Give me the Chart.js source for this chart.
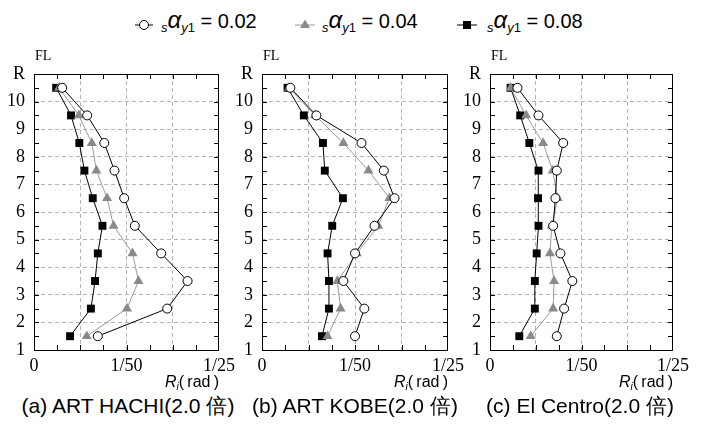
<!DOCTYPE html>
<html>
<head>
<meta charset="utf-8">
<script src="https://cdn.jsdelivr.net/npm/chart.js@4"></script>
<style>
body { margin: 0; background: #fff; width: 708px; height: 425px; position: relative; overflow: hidden;
       font-family: "Liberation Sans", Arial, sans-serif; color: #000; }
canvas { position: absolute; top: 40px; }
.fl { position: absolute; top: 48px; font: 14px "Liberation Serif", serif; }
.xt { position: absolute; top: 373px; font-size: 16px; white-space: nowrap; text-align: right; }
.xt sub { font-size: 10px; vertical-align: -3px; }
.cap { position: absolute; top: 392px; width: 300px; text-align: center; font-size: 21px; white-space: nowrap; }
.mk { position: absolute; top: 17px; }
.lt { position: absolute; top: 8px; font-size: 20px; white-space: nowrap; line-height: 24px; }
.lt .sb { font-size: 13px; vertical-align: -4px; }
.lt .al { font-size: 24px; font-style: italic; }
</style>
</head>
<body>

<svg class="mk" style="left:134px" width="22" height="16">
  <line x1="1" y1="8" x2="19" y2="8" stroke="#000" stroke-width="1"/>
  <circle cx="10" cy="8" r="4.5" fill="#fff" stroke="#000" stroke-width="1"/>
</svg>
<div class="lt" style="left:161px"><i class="sb">s</i><span class="al">α</span><i class="sb">y</i><span class="sb">1</span> = 0.02</div>

<svg class="mk" style="left:294px" width="22" height="16">
  <line x1="1" y1="8" x2="21" y2="8" stroke="#999" stroke-width="1"/>
  <polygon points="11,2.5 16,11 6,11" fill="#8a8a8a"/>
</svg>
<div class="lt" style="left:322px"><i class="sb">s</i><span class="al">α</span><i class="sb">y</i><span class="sb">1</span> = 0.04</div>

<svg class="mk" style="left:456px" width="22" height="16">
  <line x1="1" y1="8" x2="21" y2="8" stroke="#000" stroke-width="1"/>
  <rect x="7" y="4" width="8" height="8" fill="#000"/>
</svg>
<div class="lt" style="left:487px"><i class="sb">s</i><span class="al">α</span><i class="sb">y</i><span class="sb">1</span> = 0.08</div>

<canvas id="chartA"></canvas>
<canvas id="chartB"></canvas>
<canvas id="chartC"></canvas>

<div class="fl" style="left:35px">FL</div>
<div class="fl" style="left:263px">FL</div>
<div class="fl" style="left:491px">FL</div>

<div class="xt" style="right:489px"><i>R</i><sub><i>i</i></sub>(&thinsp;rad&thinsp;)</div>
<div class="xt" style="right:260px"><i>R</i><sub><i>i</i></sub>(&thinsp;rad&thinsp;)</div>
<div class="xt" style="right:35px"><i>R</i><sub><i>i</i></sub>(&thinsp;rad&thinsp;)</div>

<div class="cap" style="left:-22px">(a) ART HACHI(2.0 倍)</div>
<div class="cap" style="left:205px">(b) ART KOBE(2.0 倍)</div>
<div class="cap" style="left:430px">(c) El Centro(2.0 倍)</div>

<script>
// story mid-heights, from 1st floor up to 10th
const stories = [1.5, 2.5, 3.5, 4.5, 5.5, 6.5, 7.5, 8.5, 9.5, 10.5];
const floorLabels = ['1', '2', '3', '4', '5', '6', '7', '8', '9', '10', 'R'];
const xTickValues = [0, 0.02, 0.04];
const xTickLabels = ['0', '1/50', '1/25'];
const seriesNames = ['sαy1 = 0.02', 'sαy1 = 0.04', 'sαy1 = 0.08'];

// (a) ART HACHI
const hachi002 = [0.0138, 0.0288, 0.0332, 0.0275, 0.0218, 0.0195, 0.0174, 0.0152, 0.0115, 0.0061];
const hachi004 = [0.0114, 0.0201, 0.0226, 0.0213, 0.0172, 0.0158, 0.0135, 0.0125, 0.0097, 0.0054];
const hachi008 = [0.0078, 0.0123, 0.0132, 0.0138, 0.0148, 0.0127, 0.0109, 0.0098, 0.0080, 0.0048];

// (b) ART KOBE
const kobe002 = [0.0200, 0.0220, 0.0175, 0.0200, 0.0242, 0.0285, 0.0262, 0.0214, 0.0117, 0.0061];
const kobe004 = [0.0141, 0.0169, 0.0162, 0.0204, 0.0250, 0.0274, 0.0229, 0.0175, 0.0114, 0.0058];
const kobe008 = [0.0129, 0.0144, 0.0144, 0.0141, 0.0151, 0.0174, 0.0135, 0.0131, 0.0090, 0.0055];

// (c) El Centro
const centro002 = [0.0146, 0.0162, 0.0180, 0.0154, 0.0138, 0.0143, 0.0146, 0.0160, 0.0106, 0.0060];
const centro004 = [0.0089, 0.0138, 0.0140, 0.0131, 0.0135, 0.0148, 0.0137, 0.0116, 0.0079, 0.0045];
const centro008 = [0.0064, 0.0098, 0.0098, 0.0102, 0.0106, 0.0105, 0.0106, 0.0086, 0.0066, 0.0045];

// frame and inward ticks on all four sides
const framePlugin = {
    id: 'frame',
    beforeDatasetsDraw(chart) {
        const { ctx, chartArea: a, scales: { x, y } } = chart;
        ctx.save();
        ctx.setLineDash([]);
        ctx.strokeStyle = '#000';
        ctx.lineWidth = 1;
        ctx.beginPath();
        for (let i = 1; i < 8; i++) {
            const px = Math.round(x.getPixelForValue(i * 0.005)) + 0.5;
            ctx.moveTo(px, a.bottom); ctx.lineTo(px, a.bottom - 5);
            ctx.moveTo(px, a.top); ctx.lineTo(px, a.top + 5);
        }
        for (let i = 1; i < 20; i++) {
            const py = Math.round(y.getPixelForValue(1 + i * 0.5)) + 0.5;
            ctx.moveTo(a.left, py); ctx.lineTo(a.left + 5, py);
            ctx.moveTo(a.right, py); ctx.lineTo(a.right - 5, py);
        }
        ctx.stroke();
        ctx.strokeRect(Math.round(a.left) + 0.5, Math.round(a.top) + 0.5,
                       Math.round(a.width) - 1, Math.round(a.height));
        ctx.restore();
    }
};

function toPoints(vals) {
    return vals.map((v, i) => ({ x: v, y: stories[i] }));
}

function makePanel(id, left, width, s1, s2, s3) {
    const canvas = document.getElementById(id);
    canvas.width = width + 34 + 26;
    canvas.height = 340;
    canvas.style.left = (left - 34) + 'px';

    new Chart(canvas.getContext('2d'), {
        type: 'line',
        data: {
            datasets: [{
                label: seriesNames[0],
                data: toPoints(s1),
                borderColor: '#000', borderWidth: 1,
                pointStyle: 'circle', pointRadius: 4.5,
                pointBackgroundColor: '#fff', pointBorderColor: '#000', pointBorderWidth: 1
            }, {
                label: seriesNames[1],
                data: toPoints(s2),
                borderColor: '#9a9a9a', borderWidth: 1,
                pointStyle: 'triangle', pointRadius: 5.8,
                pointBackgroundColor: '#8a8a8a', pointBorderColor: '#8a8a8a', pointBorderWidth: 0
            }, {
                label: seriesNames[2],
                data: toPoints(s3),
                borderColor: '#000', borderWidth: 1,
                pointStyle: 'rect', pointRadius: 5.6,
                pointBackgroundColor: '#000', pointBorderColor: '#000', pointBorderWidth: 0
            }]
        },
        options: {
            responsive: false,
            animation: false,
            events: [],
            layout: { padding: { top: 34, right: 26, left: 0, bottom: 0 } },
            plugins: { legend: { display: false }, tooltip: { enabled: false } },
            elements: { line: { tension: 0 } },
            scales: {
                x: {
                    type: 'linear', min: 0, max: 0.04,
                    afterFit: s => { s.height = 30; },
                    border: { display: false, dash: [4, 3] },
                    grid: {
                        drawTicks: false,
                        lineWidth: 1,
                        color: c => (c.tick.value <= 0.0001 || c.tick.value >= 0.0399) ? 'rgba(0,0,0,0)' : '#b4b4b4'
                    },
                    ticks: {
                        stepSize: 0.01, autoSkip: false, maxRotation: 0, padding: 5,
                        color: '#000', font: { family: '"Liberation Serif", serif', size: 18 },
                        callback: v => {
                            const i = xTickValues.findIndex(t => Math.abs(t - v) < 1e-6);
                            return i >= 0 ? xTickLabels[i] : '';
                        }
                    }
                },
                y: {
                    type: 'linear', min: 1, max: 11,
                    afterFit: s => { s.width = 34; },
                    border: { display: false, dash: [4, 3] },
                    grid: {
                        drawTicks: false,
                        lineWidth: 1,
                        color: c => (c.tick.value <= 1 || c.tick.value >= 11) ? 'rgba(0,0,0,0)' : '#b4b4b4'
                    },
                    ticks: {
                        stepSize: 1, autoSkip: false, padding: 9,
                        color: '#000', font: { family: '"Liberation Serif", serif', size: 18 },
                        callback: v => floorLabels[Math.round(v) - 1]
                    }
                }
            }
        },
        plugins: [framePlugin]
    });
}

makePanel('chartA', 34, 185, hachi002, hachi004, hachi008);
makePanel('chartB', 262, 186, kobe002, kobe004, kobe008);
makePanel('chartC', 490, 183, centro002, centro004, centro008);
</script>
</body>
</html>
